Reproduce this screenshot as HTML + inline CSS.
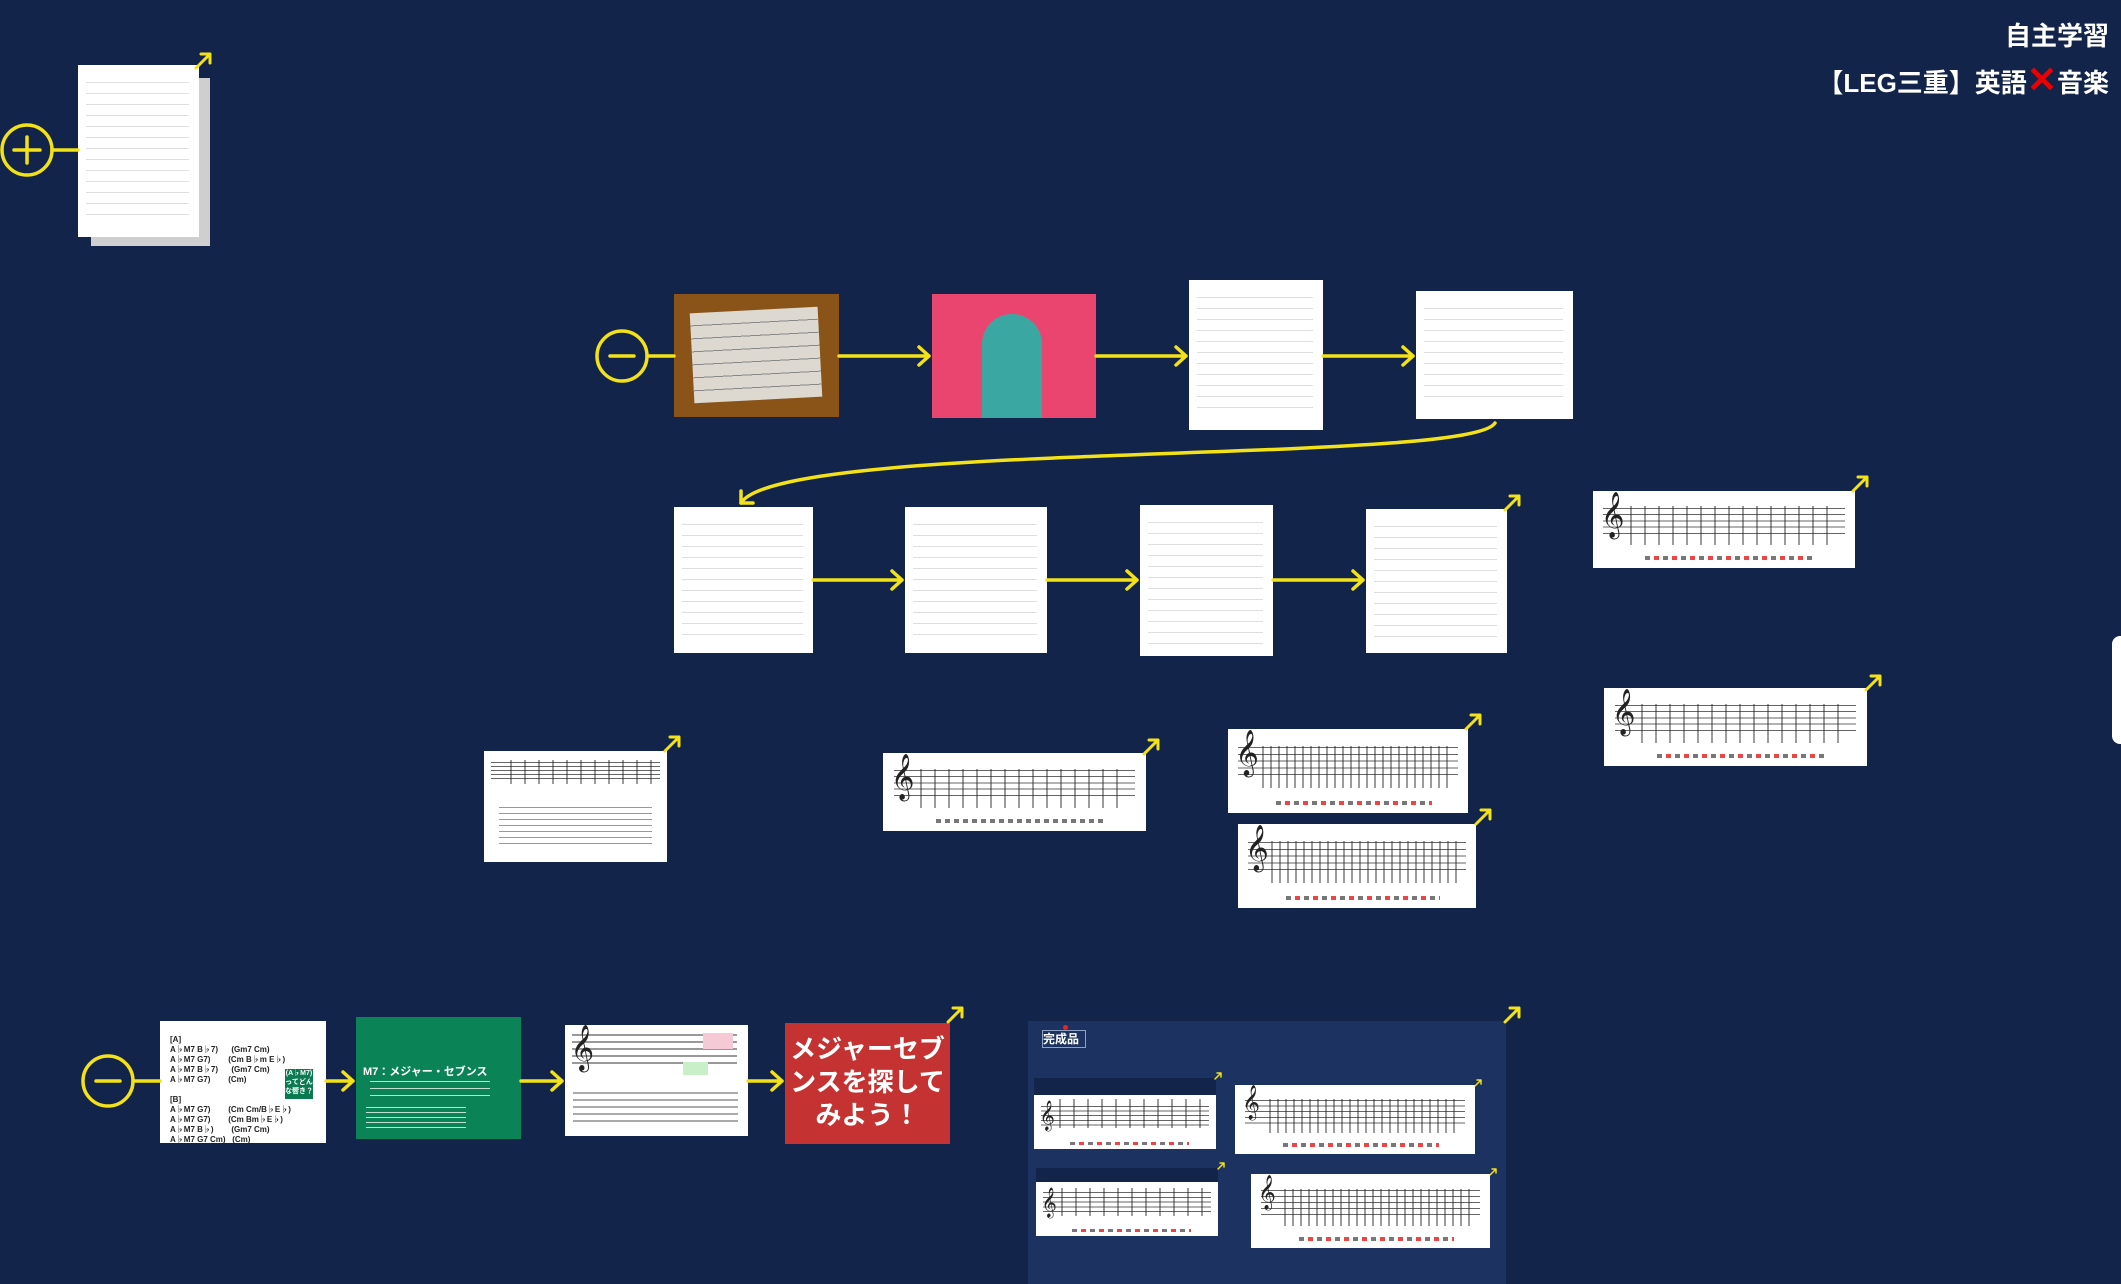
<!DOCTYPE html>
<html><head><meta charset="utf-8">
<style>
body{margin:0;width:2121px;height:1284px;background:#13244a;position:relative;overflow:hidden;font-family:"Liberation Sans","Noto Sans CJK JP",sans-serif}
.a{position:absolute}
.doc{position:absolute;background:#fff;box-sizing:border-box}
.doc::before{content:"";position:absolute;left:8px;right:10px;top:10px;bottom:12px;background:repeating-linear-gradient(to bottom,transparent 0 7px,#dedede 7px 8px,transparent 8px 11px)}
.sheet{position:absolute;background:#fff;overflow:hidden}
.staff{position:absolute;left:4%;right:4%;top:22%;height:40%;background:repeating-linear-gradient(to bottom,#666 0 1px,transparent 1px 20%)}
.clef{position:absolute;left:3%;top:5%;font-size:40px;color:#222;font-family:"DejaVu Sans",serif;line-height:1}
.notes{position:absolute;left:14%;right:6%;top:20%;height:50%;background:repeating-linear-gradient(to right,#222 0 2px,transparent 2px 14px);opacity:.45}
.lyr{position:absolute;left:20%;right:15%;bottom:10%;height:4px;background:repeating-linear-gradient(to right,#777 0 5px,transparent 5px 9px)}
.lyr.r{background:repeating-linear-gradient(to right,#777 0 5px,transparent 5px 9px,#e44 9px 14px,transparent 14px 18px)}
.band{position:absolute;left:0;right:0;top:0;background:#13244a}
</style></head><body>

<div class="a" style="right:12px;top:14px;color:#fff;font-weight:bold;font-size:26px;text-align:right;line-height:44px">自主学習<br>【LEG三重】英語<span style="color:#e00;font-size:36px">✕</span>音楽</div>

<div class="a" style="left:91px;top:78px;width:119px;height:168px;background:#cfcfcf"></div>
<div class="doc" style="left:78px;top:65px;width:121px;height:172px"></div>

<div class="a" style="left:674px;top:294px;width:165px;height:123px;background:#8a5418"><div class="a" style="left:18px;top:16px;width:128px;height:90px;background:#ddd9d0;transform:rotate(-3deg);background-image:repeating-linear-gradient(to bottom,transparent 0 12px,#888 12px 13px)"></div></div>
<div class="a" style="left:932px;top:294px;width:164px;height:124px;background:#e9456e"><div class="a" style="left:50px;top:20px;width:60px;height:104px;border-radius:30px 30px 0 0;background:#3aa7a2"></div></div>
<div class="doc" style="left:1189px;top:280px;width:134px;height:150px"></div>
<div class="doc" style="left:1416px;top:291px;width:157px;height:128px"></div>

<div class="doc" style="left:674px;top:507px;width:139px;height:146px"></div>
<div class="doc" style="left:905px;top:507px;width:142px;height:146px"></div>
<div class="doc" style="left:1140px;top:505px;width:133px;height:151px"></div>
<div class="doc" style="left:1366px;top:509px;width:141px;height:144px"></div>

<div class="sheet" style="left:1593px;top:491px;width:262px;height:77px"><div class="staff"></div><div class="clef">𝄞</div><div class="notes"></div><div class="lyr r"></div></div>
<div class="sheet" style="left:1604px;top:688px;width:263px;height:78px"><div class="staff"></div><div class="clef">𝄞</div><div class="notes"></div><div class="lyr r"></div></div>

<div class="sheet" style="left:484px;top:751px;width:183px;height:111px"><div class="staff" style="top:10%;height:18%"></div><div class="notes" style="top:8%;height:22%"></div><div class="a" style="left:8%;right:8%;top:50%;height:35%;background:repeating-linear-gradient(to bottom,#999 0 1px,transparent 1px 6px)"></div></div>
<div class="sheet" style="left:883px;top:753px;width:263px;height:78px"><div class="staff"></div><div class="clef">𝄞</div><div class="notes"></div><div class="lyr"></div></div>
<div class="sheet" style="left:1228px;top:729px;width:240px;height:84px"><div class="staff"></div><div class="clef">𝄞</div><div class="notes" style="background:repeating-linear-gradient(to right,#222 0 2px,transparent 2px 8px)"></div><div class="lyr r"></div></div>
<div class="sheet" style="left:1238px;top:824px;width:238px;height:84px"><div class="staff"></div><div class="clef">𝄞</div><div class="notes" style="background:repeating-linear-gradient(to right,#222 0 2px,transparent 2px 8px)"></div><div class="lyr r"></div></div>

<div class="a" style="left:2112px;top:636px;width:20px;height:108px;background:#fff;border-radius:8px"></div>

<div class="a" style="left:160px;top:1021px;width:166px;height:122px;background:#fff;font-size:8px;font-weight:bold;color:#222;line-height:10px;overflow:hidden">
<div class="a" style="left:10px;top:14px;white-space:pre">[A]
A♭M7 B♭7)      (Gm7 Cm)
A♭M7 G7)        (Cm B♭m E♭)
A♭M7 B♭7)      (Gm7 Cm)
A♭M7 G7)        (Cm)

[B]
A♭M7 G7)        (Cm Cm/B♭E♭)
A♭M7 G7)        (Cm Bm♭E♭)
A♭M7 B♭)        (Gm7 Cm)
A♭M7 G7 Cm)   (Cm)</div>
<div class="a" style="left:125px;top:48px;width:28px;height:30px;background:#0a7a50;color:#fff;font-size:7px;line-height:9px;text-align:center">(A♭M7)<br>ってどん<br>な響き？</div></div>
<div class="a" style="left:356px;top:1017px;width:165px;height:122px;background:#0a8457;color:#fff">
<div class="a" style="left:7px;top:46px;font-size:11px;font-weight:bold">M7：メジャー・セブンス</div>
<div class="a" style="left:14px;top:64px;width:120px;height:20px;background:repeating-linear-gradient(to bottom,#bfe0d0 0 1px,transparent 1px 7px)"></div>
<div class="a" style="left:10px;top:90px;width:100px;height:22px;background:repeating-linear-gradient(to bottom,#bfe0d0 0 1px,transparent 1px 5px)"></div></div>
<div class="sheet" style="left:565px;top:1025px;width:183px;height:111px"><div class="staff" style="top:8%;height:32%;left:4%;right:6%;background:repeating-linear-gradient(to bottom,#999 0 2px,transparent 2px 20%)"></div><div class="clef" style="top:3%">𝄞</div><div class="a" style="left:8px;right:10px;top:60%;height:30%;background:repeating-linear-gradient(to bottom,#aaa 0 2px,transparent 2px 7px)"></div><div class="a" style="right:15px;top:8px;width:30px;height:16px;background:#f6c9d6"></div><div class="a" style="left:118px;top:37px;width:25px;height:13px;background:#c9efc9"></div></div>
<div class="a" style="left:785px;top:1023px;width:165px;height:121px;background:#c43232;color:#fff;font-weight:bold;font-size:26px;line-height:33px;text-align:center;padding-top:10px;box-sizing:border-box">メジャーセブ<br>ンスを探して<br>みよう！</div>

<div class="a" style="left:1028px;top:1021px;width:478px;height:263px;background:#1c3260"></div>
<div class="a" style="left:1042px;top:1030px;width:42px;height:16px;border:1px solid #8ea3c4;color:#fff;font-size:12px;font-weight:bold;line-height:16px">完成品</div>
<div class="a" style="left:1063px;top:1025px;width:5px;height:5px;border-radius:50%;background:#e22"></div>
<div class="sheet" style="left:1034px;top:1078px;width:182px;height:71px"><div class="band" style="height:17px"></div><div class="staff" style="top:40%;height:32%"></div><div class="clef" style="font-size:26px;top:35%">𝄞</div><div class="notes" style="top:30%;height:40%"></div><div class="lyr r" style="height:3px;bottom:6%"></div></div>
<div class="sheet" style="left:1235px;top:1085px;width:240px;height:69px"><div class="staff"></div><div class="clef" style="font-size:30px">𝄞</div><div class="notes" style="background:repeating-linear-gradient(to right,#222 0 2px,transparent 2px 8px)"></div><div class="lyr r"></div></div>
<div class="sheet" style="left:1036px;top:1168px;width:182px;height:68px"><div class="band" style="height:14px"></div><div class="staff" style="top:35%;height:35%"></div><div class="clef" style="font-size:26px;top:32%">𝄞</div><div class="notes" style="top:30%;height:40%"></div><div class="lyr r" style="height:3px;bottom:6%"></div></div>
<div class="sheet" style="left:1251px;top:1174px;width:239px;height:74px"><div class="staff"></div><div class="clef" style="font-size:30px">𝄞</div><div class="notes" style="background:repeating-linear-gradient(to right,#222 0 2px,transparent 2px 8px)"></div><div class="lyr r"></div></div>

<svg class="a" style="left:0;top:0" width="2121" height="1284" fill="none" stroke="#f3e218" stroke-width="3.5" stroke-linecap="round" stroke-linejoin="round">
<circle cx="27" cy="150" r="25"/><path d="M14 150h26M27 137v26"/><path d="M52 150h26"/>
<circle cx="622" cy="356" r="25"/><path d="M610 356h24M647 356h27"/>
<circle cx="108" cy="1081" r="25"/><path d="M96 1081h24M133 1081h27"/>
<path d="M839 356h90M919 347l10 9-10 9"/>
<path d="M1096 356h90M1176 347l10 9-10 9"/>
<path d="M1323 356h90M1403 347l10 9-10 9"/>
<path d="M1495 423C1470 465 780 440 741 503"/><path d="M741 491v12h12"/>
<path d="M813 580h89M892 571l10 9-10 9"/>
<path d="M1047 580h90M1127 571l10 9-10 9"/>
<path d="M1273 580h90M1353 571l10 9-10 9"/>
<path d="M326 1081h27M343 1072l10 9-10 9"/>
<path d="M521 1081h41M552 1072l10 9-10 9"/>
<path d="M748 1081h34M772 1072l10 9-10 9"/>
<g stroke-width="3">
<path d="M196 68l14-14M201 54h9v9"/>
<path d="M1505 510l14-14M1510 496h9v9"/>
<path d="M1853 491l14-14M1858 477h9v9"/>
<path d="M1866 690l14-14M1871 676h9v9"/>
<path d="M665 751l14-14M670 737h9v9"/>
<path d="M1144 754l14-14M1149 740h9v9"/>
<path d="M1466 729l14-14M1471 715h9v9"/>
<path d="M1476 824l14-14M1481 810h9v9"/>
<path d="M948 1022l14-14M953 1008h9v9"/>
<path d="M1505 1022l14-14M1510 1008h9v9"/>
</g>
<g stroke-width="1.5">
<path d="M1215 1079l6-6M1217 1073h4v4"/>
<path d="M1475 1086l6-6M1477 1080h4v4"/>
<path d="M1218 1169l6-6M1220 1163h4v4"/>
<path d="M1490 1175l6-6M1492 1169h4v4"/>
</g>
</svg>
</body></html>
